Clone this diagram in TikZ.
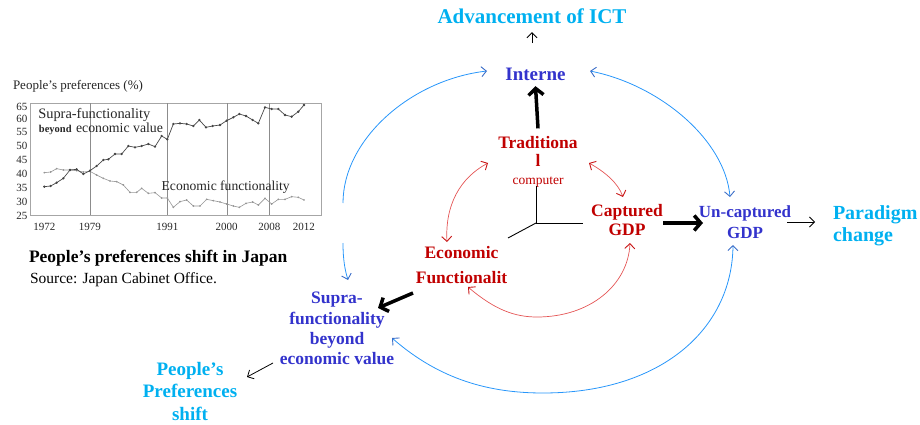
\documentclass[tikz,border=0pt]{standalone}
\usepackage{fontspec}
\setmainfont{Liberation Serif}
\usetikzlibrary{arrows.meta}
\definecolor{ictcyan}{RGB}{0,176,240}
\definecolor{nodeblue}{RGB}{51,51,204}
\definecolor{nodered}{RGB}{192,0,0}
\definecolor{arcred}{RGB}{228,85,85}
\definecolor{arcblue}{RGB}{40,150,250}
\definecolor{tipblue}{RGB}{60,110,200}
\definecolor{tipred}{RGB}{200,20,20}
\definecolor{supraline}{RGB}{70,70,70}
\definecolor{econline}{RGB}{150,150,150}
\begin{document}
\begin{tikzpicture}[x=1pt,y=-1pt,
  every node/.style={inner sep=0pt, outer sep=0pt},
  lbl/.style={align=center, anchor=north},
  bluearc/.style={draw=arcblue, line width=0.8pt},
  redarc/.style={draw=arcred, line width=0.7pt},
  btip/.tip={Straight Barb[length=5pt,width=10pt,color=tipblue,line width=0.9pt]},
  rtip/.tip={Straight Barb[length=5pt,width=10pt,color=tipred,line width=0.9pt]},
  thinarrow/.style={draw=black, line width=0.8pt, -{Straight Barb[length=5pt,width=10pt,line width=0.8pt]}},
  thickarrow/.style={draw=black, line width=3.5pt, -{Straight Barb[length=6.5pt,width=15pt]}},
  chartlbl/.style={font=\fontsize{11}{11}\selectfont, text=black!85},
  cyantext/.style={text=ictcyan, font=\bfseries},
]
\useasboundingbox (0,0) rectangle (920,425);

% ---------------- chart ----------------
\node[anchor=base west, font=\fontsize{13}{13}\selectfont, text=black!85] (charttitle) at (13,90) {People’s preferences (\%)};
\begin{scope}[shift={(0,70)}, x=0.33333pt, y=-0.33333pt]
  \draw[black!35, line width=0.6pt] (90,100) rectangle (965,435);
  \foreach \xv in {270,502,682,808} \draw[black!45, line width=0.6pt] (\xv,100) -- (\xv,435);
  \foreach \yv/\lab in {110/65,146/60,186/55,227/50,269/45,311/40,353/35,395/30,437/25}
    \node[chartlbl, anchor=east] at (82,\yv) {\lab};
  \foreach \xv/\lab in {133/1972,270/1979,502/1991,680/2000,808/2008,912/2012}
    \node[chartlbl] at (\xv,470) {\lab};
  \draw[econline, line width=0.6pt] plot[mark=*, mark size=0.5pt] coordinates {
    (133,308) (152,306) (170,296) (190,300) (210,300) (230,302) (250,306) (270,304)
    (290,315) (310,325) (330,333) (350,335) (370,345) (390,367) (410,367) (425,355)
    (445,370) (465,368) (485,384) (502,384) (520,412) (540,395) (560,390) (580,408)
    (600,408) (620,388) (640,392) (660,396) (680,402) (700,408) (718,412) (738,400)
    (758,396) (775,405) (795,385) (815,402) (835,388) (855,388) (875,380) (895,382) (912,390)};
  \draw[supraline, line width=0.7pt] plot[mark=*, mark size=0.8pt] coordinates {
    (133,350) (152,348) (170,338) (190,325) (210,300) (230,298) (250,312) (270,302)
    (290,288) (310,270) (325,268) (345,252) (365,252) (385,228) (405,232) (425,228)
    (445,222) (465,230) (485,198) (502,208) (520,162) (540,160) (560,162) (580,168)
    (598,150) (618,172) (638,168) (660,165) (680,152) (700,142) (718,132) (738,138)
    (758,150) (775,160) (795,112) (815,117) (835,117) (855,135) (875,140) (895,125) (912,105)};
  \node[anchor=base west, font=\fontsize{14.4}{14.4}\selectfont, text=black!85] (supratag) at (115,145) {Supra-functionality};
  \node[anchor=base west, font=\fontsize{10.5}{10.5}\bfseries, text=black!85] (beyondtag) at (117,189) {beyond};
  \node[anchor=base west, font=\fontsize{13.8}{13.8}\selectfont, text=black!85] (econvaltag) at (228,189) {economic value};
  \node[anchor=base west, font=\fontsize{13.6}{13.6}\selectfont, text=black!85] (econtag) at (485,362) {Economic functionality};
\end{scope}
\node[anchor=base west, font=\fontsize{17.5}{17.5}\bfseries] (caption) at (29,262) {People’s preferences shift in Japan};
\node[anchor=base west, font=\fontsize{15.5}{15.5}\selectfont] (source) at (30,283) {Source: Japan Cabinet Office.};

% ---------------- diagram nodes ----------------
\node[cyantext, anchor=base, font=\fontsize{21}{21}\bfseries] (ict) at (532,24) {Advancement of ICT};
\node[anchor=base, text=nodeblue, font=\fontsize{19}{19}\bfseries] (intern) at (535.5,81) {Interne};
\node[lbl, text=nodered, font=\fontsize{17.5}{18}\bfseries] (trad) at (538,136.4) {Traditiona\\l\\{\fontsize{13.5}{18}\mdseries computer}};
\node[lbl, text=nodered, font=\fontsize{17.5}{19}\bfseries] (capt) at (627,204.2) {Captured\\GDP};
\node[lbl, text=nodered, font=\fontsize{17.5}{25}\bfseries] (econ) at (461.5,246.2) {Economic\\Functionalit};
\node[lbl, text=nodeblue, font=\fontsize{17}{21}\bfseries] (uncapt) at (745,205.5) {Un-captured\\GDP};
\node[align=left, anchor=north west, cyantext, font=\fontsize{20}{22}\bfseries] (para) at (833,205.5) {Paradigm\\change};
\node[lbl, text=nodeblue, font=\fontsize{17.5}{20.3}\bfseries] (supra) at (337,292.2) {Supra-\\functionality\\beyond\\economic value};
\node[lbl, cyantext, font=\fontsize{19}{22.5}\bfseries] (people) at (190,362.2) {People’s\\Preferences\\shift};

% ---------------- axes in the middle ----------------
\coordinate (hub) at (536,223);
\coordinate (hubup) at (536,186);
\coordinate (hubright) at (583,223);
\coordinate (hubleft) at (508,238);
\draw[line width=0.9pt] (hubup) -- (hub) -- (hubright);
\draw[line width=0.9pt] (hub) -- (hubleft);

% ---------------- straight arrows ----------------
\draw[thinarrow] ([yshift=-19pt]ict.south) -- ([yshift=-8pt]ict.south);
\draw[thickarrow] ([yshift=8pt]trad.north) -- ([yshift=-5pt]intern.south);
\coordinate (capttail) at (663,223);
\coordinate (uncapttip) at (703,223);
\draw[thickarrow] (capttail) -- (uncapttip);
\coordinate (econtail) at (413,293);
\coordinate (supratip) at (378,308);
\draw[thickarrow] (econtail) -- (supratip);
\coordinate (uncaptout) at (787,222);
\coordinate (paratip) at (815,222);
\draw[thinarrow] (uncaptout) -- (paratip);
\coordinate (supraout) at (273,363);
\coordinate (peopletip) at (247,377);
\draw[thinarrow] (supraout) -- (peopletip);

% ---------------- blue arcs ----------------
\coordinate (intL) at (487,71);
\coordinate (intR) at (590,71);
\coordinate (leftA) at (343,203);
\coordinate (leftB) at (343,243);
\coordinate (supraTop) at (348,280);
\coordinate (uncTop) at (730,197);
\coordinate (uncBot) at (733,245);
\coordinate (supraBot) at (392,338);
\coordinate (blueLow) at (543,393);
\draw[bluearc, -btip] (leftA) .. controls (343,140) and (410,80) .. (intL);
\draw[bluearc, -btip] (leftB) .. controls (343,260) and (345,270) .. (supraTop);
\draw[bluearc, btip-btip] (intR) .. controls (660,85) and (725,140) .. (uncTop);
\draw[bluearc, btip-btip] (supraBot) .. controls (440,380) and (490,393) .. (blueLow)
   .. controls (660,393) and (732,330) .. (uncBot);

% ---------------- red arcs ----------------
\coordinate (tradL) at (488,163);
\coordinate (tradR) at (589,163);
\coordinate (econTop) at (447,242);
\coordinate (captTop) at (623,197);
\coordinate (econBot) at (468,287);
\coordinate (captBot) at (630,243);
\coordinate (redLow) at (537,317);
\draw[redarc, rtip-rtip] (tradL) .. controls (460,178) and (445,205) .. (econTop);
\draw[redarc, rtip-rtip] (tradR) .. controls (605,172) and (618,183) .. (captTop);
\draw[redarc, rtip-rtip] (econBot) .. controls (495,310) and (515,317) .. (redLow)
   .. controls (590,317) and (628,285) .. (captBot);
\end{tikzpicture}
\end{document}
